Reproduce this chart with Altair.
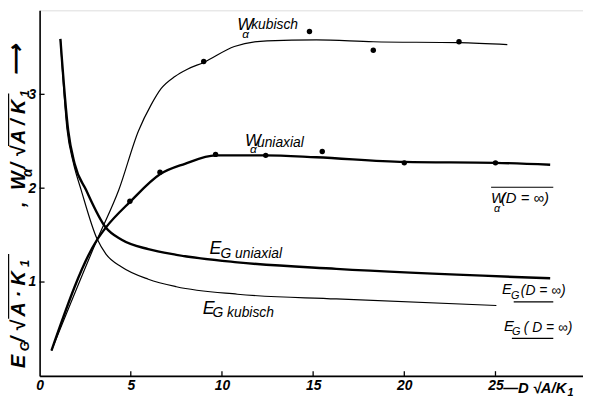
import altair as alt
import pandas as pd

# ---------------- data ----------------
# W_alpha kubisch (thin curve)
wk_x = [0.65, 3.15, 4.34, 5.42, 6.12, 6.66, 7.42, 8.13, 9.0, 10.68, 12.47, 15.18, 18.3, 23.0, 25.65]
wk_y = [0.27, 1.45, 1.98, 2.61, 2.89, 3.06, 3.19, 3.27, 3.34, 3.51, 3.57, 3.58, 3.56, 3.55, 3.53]
# W_alpha uniaxial (thick curve)
wu_x = [0.65, 3.15, 3.63, 4.99, 6.62, 7.97, 9.65, 12.36, 15.18, 20.0, 25.0, 28.0]
wu_y = [0.27, 1.45, 1.58, 1.86, 2.15, 2.26, 2.35, 2.35, 2.33, 2.28, 2.27, 2.25]
# E_G uniaxial (thick curve)
eu_x = [1.14, 1.57, 1.92, 2.55, 3.63, 4.5, 5.96, 7.5, 10.85, 16.27, 28.0]
eu_y = [3.59, 2.61, 2.26, 1.98, 1.58, 1.45, 1.35, 1.29, 1.21, 1.14, 1.04]
# E_G kubisch (thin curve)
ek_x = [1.14, 1.50, 1.85, 2.28, 3.15, 3.63, 4.5, 5.96, 7.5, 10.85, 16.27, 25.05]
ek_y = [3.59, 2.63, 2.27, 1.98, 1.46, 1.30, 1.16, 1.03, 0.95, 0.87, 0.82, 0.75]
# measured points
pk_x = [9.0, 14.8, 18.3, 23.0]
pk_y = [3.35, 3.67, 3.47, 3.56]
pu_x = [4.95, 6.6, 9.65, 12.4, 15.5, 20.0, 25.0]
pu_y = [1.86, 2.17, 2.36, 2.35, 2.39, 2.27, 2.27]
# axes
x_ticks = [0, 5, 10, 15, 20, 25]
y_ticks = [1, 2, 3]
x_max = 29.8
y_max = 3.895

# annotation texts: (text, x, y, fontsize)
labels_norm = [
    ("W", 10.84, 3.684, 17), ("α", 11.11, 3.60, 12), ("kubisch", 11.6, 3.695, 14),
    ("W", 11.27, 2.453, 17), ("α", 11.54, 2.37, 12), ("uniaxial", 11.92, 2.442, 14),
    ("W", 24.76, 1.842, 15), ("α", 24.92, 1.75, 11), ("(D = ∞)", 25.30, 1.842, 15),
    ("E", 9.32, 1.295, 18), ("G uniaxial", 9.92, 1.253, 14),
    ("E", 8.94, 0.663, 18), ("G kubisch", 9.48, 0.632, 14),
    ("E", 25.36, 0.874, 15), ("G", 25.85, 0.821, 11), ("(D = ∞)", 26.39, 0.863, 14),
    ("E", 25.47, 0.474, 15), ("G", 25.9, 0.432, 11), ("( D = ∞)", 26.55, 0.463, 14),
]
x_title = [("—D √A/K", 25.42, -0.179, 15), ("1", 28.95, -0.21, 11)]
y_title = [
    ("E", -0.79, 0.084, 20), ("G", -0.57, 0.263, 13), ("/", -0.79, 0.358, 20),
    ("√", -0.79, 0.474, 20), ("A · K", -0.79, 0.632, 20), ("1", -0.57, 1.16, 13),
    (",", -0.79, 1.80, 20), ("W", -0.79, 1.98, 20), ("α", -0.41, 2.12, 14),
    ("/", -0.79, 2.21, 20), ("√", -0.79, 2.33, 20), ("A / K", -0.79, 2.47, 20),
    ("1", -0.57, 2.97, 13), ("⟶", -0.92, 3.20, 22),
]
# over/underlines: (x1, x2, y1, y2)
decor = [
    (24.76, 28.17, 2.01, 2.01),
    (26.0, 28.17, 0.789, 0.789),
    (25.9, 28.17, 0.40, 0.40),
    (-1.70, -1.70, 0.61, 1.30),
    (-1.70, -1.70, 2.45, 3.01),
]

# ---------------- build tables ----------------
def curve(name, xs_, ys_):
    return pd.DataFrame({"x": xs_, "y": ys_, "series": name})

thick_df = pd.concat([curve("Wu", wu_x, wu_y), curve("Eu", eu_x, eu_y)])
thin_df = pd.concat([curve("Wk", wk_x, wk_y), curve("Ek", ek_x, ek_y)])
pts_df = pd.DataFrame({"x": pk_x + pu_x, "y": pk_y + pu_y})

def tdf(items, angle=0):
    return pd.DataFrame({"text": [t[0] for t in items], "x": [t[1] for t in items],
                         "y": [t[2] for t in items], "size": [t[3] for t in items],
                         "angle": angle})

lab_df = tdf(labels_norm)
xt_df = tdf(x_title)
yt_df = tdf(y_title, 270)
dec_df = pd.DataFrame(decor, columns=["x1", "x2", "y1", "y2"])

tick_len_y = 0.05
tick_len_x = 0.27
xtick_df = pd.DataFrame({"x": x_ticks[1:], "y": 0.0, "y2": tick_len_y})
ytick_df = pd.DataFrame({"y": y_ticks, "x": 0.0, "x2": tick_len_x})

FONT = "Liberation Sans"
xs = alt.Scale(domain=[0, x_max], nice=False, zero=False)
ys = alt.Scale(domain=[0, y_max], nice=False, zero=False)

xaxis = alt.Axis(values=x_ticks, ticks=False, labelPadding=3, grid=False,
                 title=None, labelFont=FONT, labelFontSize=14, labelFontStyle="italic",
                 labelFontWeight="bold", labelColor="black", domainColor="black",
                 domainWidth=1.6, labelFlush=False, labels=True)
yaxis = alt.Axis(values=y_ticks, ticks=False, labelPadding=4, grid=False,
                 title=None, labelFont=FONT, labelFontSize=14, labelFontStyle="italic",
                 labelFontWeight="bold", labelColor="black", domainColor="black",
                 domainWidth=1.6, labels=True)

X = lambda f: alt.X(f, scale=xs, axis=xaxis, title=None)
Y = lambda f: alt.Y(f, scale=ys, axis=yaxis, title=None)

thick = alt.Chart(thick_df).mark_line(color="black", strokeWidth=2.4, interpolate="monotone").encode(
    x=X("x:Q"), y=Y("y:Q"), detail="series:N",
)
thin = alt.Chart(thin_df).mark_line(color="black", strokeWidth=1.2, interpolate="monotone").encode(
    x=X("x:Q"), y=Y("y:Q"), detail="series:N",
)
pts = alt.Chart(pts_df).mark_circle(color="black", size=30, opacity=1).encode(
    x=X("x:Q"), y=Y("y:Q")
)
xt = alt.Chart(xtick_df).mark_rule(color="black", strokeWidth=1.3).encode(
    x=X("x:Q"), y=Y("y:Q"), y2="y2:Q"
)
yt = alt.Chart(ytick_df).mark_rule(color="black", strokeWidth=1.3).encode(
    y=Y("y:Q"), x=X("x:Q"), x2="x2:Q"
)
dec = alt.Chart(dec_df).mark_rule(color="black", strokeWidth=1.2).encode(
    x=X("x1:Q"), x2="x2:Q", y=Y("y1:Q"), y2="y2:Q",
)

def text_layer(df, weight):
    return alt.Chart(df).mark_text(align="left", baseline="alphabetic", font=FONT,
                                   fontStyle="italic", fontWeight=weight, color="black").encode(
        x=X("x:Q"),
        y=Y("y:Q"),
        text="text:N",
        size=alt.Size("size:Q", scale=None, legend=None),
        angle=alt.Angle("angle:Q", scale=None, legend=None),
    )

chart = alt.layer(
    thick, thin, pts, xt, yt, dec,
    text_layer(lab_df, "normal"), text_layer(xt_df, "bold"), text_layer(yt_df, "bold"),
).properties(
    width=550, height=370,
    padding={"left": 32, "top": 0, "right": 0, "bottom": 18},
    autosize=alt.AutoSizeParams(type="none"),
).configure_view(stroke=None).configure(background="white")

chart.save("out.html", embed_options={"renderer": "svg", "actions": False})
